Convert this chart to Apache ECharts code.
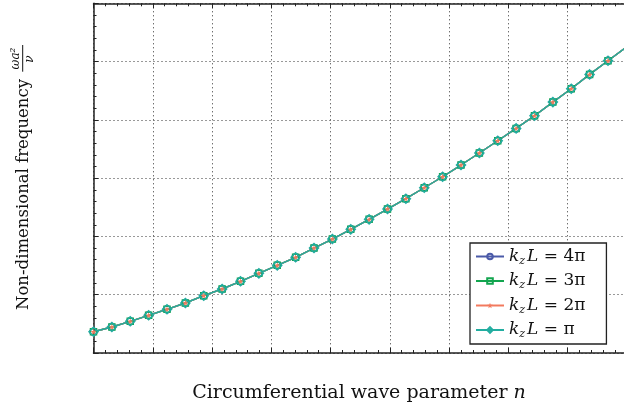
<!DOCTYPE html>
<html>
<head>
<meta charset="utf-8">
<script src="https://cdn.jsdelivr.net/npm/echarts@6/dist/echarts.min.js"></script>
<style>
  html, body { margin: 0; padding: 0; background: #fff; }
  #chart { width: 624px; height: 409px; }
</style>
</head>
<body>
<div id="chart"></div>
<script>
// Circumferential wave parameter n (sampled positions along the x axis)
const waveParam = [0.00, 0.31, 0.62, 0.93, 1.24, 1.55, 1.86, 2.17, 2.48, 2.79,
                   3.10, 3.41, 3.72, 4.03, 4.34, 4.65, 4.96, 5.27, 5.58, 5.89,
                   6.20, 6.51, 6.82, 7.13, 7.44, 7.75, 8.06, 8.37, 8.68, 8.99];

// Non-dimensional frequency for each axial wavenumber k_z L
const freqK4pi = [0.365, 0.446, 0.544, 0.647, 0.750, 0.858, 0.983, 1.098, 1.230, 1.367,
                  1.504, 1.642, 1.801, 1.955, 2.122, 2.293, 2.470, 2.647, 2.835, 3.024,
                  3.225, 3.431, 3.642, 3.854, 4.070, 4.305, 4.533, 4.780, 5.014, 5.249];
const freqK3pi = [0.365, 0.446, 0.544, 0.647, 0.750, 0.858, 0.983, 1.098, 1.230, 1.367,
                  1.504, 1.642, 1.801, 1.955, 2.122, 2.293, 2.470, 2.647, 2.835, 3.024,
                  3.225, 3.431, 3.642, 3.854, 4.070, 4.305, 4.533, 4.780, 5.014, 5.249];
const freqK2pi = [0.365, 0.446, 0.544, 0.647, 0.750, 0.858, 0.983, 1.098, 1.230, 1.367,
                  1.504, 1.642, 1.801, 1.955, 2.122, 2.293, 2.470, 2.647, 2.835, 3.024,
                  3.225, 3.431, 3.642, 3.854, 4.070, 4.305, 4.533, 4.780, 5.014, 5.249];
const freqKpi  = [0.365, 0.446, 0.544, 0.647, 0.750, 0.858, 0.983, 1.098, 1.230, 1.367,
                  1.504, 1.642, 1.801, 1.955, 2.122, 2.293, 2.470, 2.647, 2.835, 3.024,
                  3.225, 3.431, 3.642, 3.854, 4.070, 4.305, 4.533, 4.780, 5.014, 5.249];

const seriesNames = ['4π', '3π', '2π', 'π'];

const STAR = 'path://M5,0 L6.2,3.8 L10,3.8 L6.9,6.2 L8.1,10 L5,7.6 L1.9,10 L3.1,6.2 L0,3.8 L3.8,3.8 Z';

const styles = [
  { color: '#4b5aa8', symbol: 'circle',  size: 7, hollow: true },
  { color: '#13a54f', symbol: 'rect',    size: 6, hollow: true },
  { color: '#f27a5e', symbol: STAR,      size: 6, hollow: false },
  { color: '#22ada0', symbol: 'diamond', size: 9, hollow: true }
];
const values = [freqK4pi, freqK3pi, freqK2pi, freqKpi];

const AXIS = '#222';
const GRIDC = '#333';

function pairs(ys) {
  return waveParam.map((x, i) => [x, ys[i]]);
}

const series = seriesNames.map((nm, k) => {
  const s = styles[k];
  return {
    name: nm,
    type: 'line',
    data: pairs(values[k]),
    symbol: s.symbol,
    symbolSize: s.size,
    showAllSymbol: true,
    lineStyle: { color: s.color, width: 1.4 },
    itemStyle: s.hollow
      ? { color: 'rgba(255,255,255,0)', borderColor: s.color, borderWidth: 1.5 }
      : { color: s.color, borderWidth: 0 },
    emphasis: { disabled: true },
    animation: false
  };
});

function axisCommon(extra) {
  return Object.assign({
    type: 'value',
    axisLine: { show: true, onZero: false, lineStyle: { color: AXIS, width: 1.5 } },
    axisTick: { show: true, inside: true, length: 5, lineStyle: { color: AXIS, width: 1 } },
    minorTick: { show: true, splitNumber: 5, length: 3, lineStyle: { color: AXIS, width: 1 } },
    axisLabel: { show: false },
    splitLine: { show: false },
    minorSplitLine: { show: false }
  }, extra);
}

const chart = echarts.init(document.getElementById('chart'), null, { renderer: 'canvas' });

const serif = '"DejaVu Serif", "Liberation Serif", serif';

// visible part of the n range (the frame continues past the right edge)
const X_MAX = 8.95;

chart.setOption({
  backgroundColor: '#fff',
  animation: false,
  grid: { left: 93.5, top: 3.3, right: 0, bottom: 56, containLabel: false },
  xAxis: [
    axisCommon({
      min: 0, max: X_MAX, interval: 1, position: 'bottom',
      splitLine: { show: true, lineStyle: { color: GRIDC, width: 1, type: [1, 3] } }
    }),
    axisCommon({ min: 0, max: X_MAX, interval: 1, position: 'top' })
  ],
  yAxis: [
    axisCommon({
      min: 0, max: 6, interval: 1, position: 'left',
      splitLine: { show: true, lineStyle: { color: GRIDC, width: 1, type: [1, 3] } }
    }),
    axisCommon({ show: false, min: 0, max: 6, interval: 1, position: 'right' })
  ],
  legend: {
    orient: 'vertical',
    left: 470, top: 243,
    backgroundColor: '#fff',
    borderColor: '#222', borderWidth: 1.3, borderRadius: 0,
    padding: [5, 21, 4, 5],
    itemWidth: 28, itemHeight: 7, itemGap: 6,
    data: seriesNames,
    formatter: nm => '{i|k}{s|z}{i|L}{t| = ' + nm + '}',
    textStyle: {
      fontFamily: serif, color: '#111',
      rich: {
        i: { fontFamily: serif, fontStyle: 'italic', fontSize: 17, lineHeight: 20, verticalAlign: 'middle', color: '#111' },
        s: { fontFamily: serif, fontStyle: 'italic', fontSize: 11, lineHeight: 20, verticalAlign: 'bottom', padding: [0, 2, 0, 0], color: '#111' },
        t: { fontFamily: serif, fontSize: 17, lineHeight: 20, verticalAlign: 'middle', color: '#111' }
      }
    }
  },
  graphic: [
    {
      type: 'text', x: 359, y: 393,
      style: {
        text: '{r|Circumferential wave parameter }{i|n}',
        textAlign: 'center', textVerticalAlign: 'middle',
        rich: {
          r: { fontFamily: serif, fontSize: 19, fill: '#111' },
          i: { fontFamily: serif, fontSize: 19, fontStyle: 'italic', fill: '#111' }
        }
      }
    },
    {
      type: 'text', x: 24, y: 310, rotation: Math.PI / 2,
      style: {
        text: 'Non-dimensional frequency',
        textAlign: 'left', textVerticalAlign: 'middle',
        fontFamily: serif, fontSize: 16.5, fill: '#111'
      }
    },
    {
      type: 'text', x: 16, y: 58.5, rotation: Math.PI / 2,
      style: {
        text: 'ωa²', textAlign: 'center', textVerticalAlign: 'middle',
        fontFamily: serif, fontStyle: 'italic', fontSize: 12, fill: '#111'
      }
    },
    {
      type: 'line',
      shape: { x1: 22.7, y1: 45, x2: 22.7, y2: 71.7 },
      style: { stroke: '#111', lineWidth: 1 }
    },
    {
      type: 'text', x: 29.5, y: 59, rotation: Math.PI / 2,
      style: {
        text: 'ν', textAlign: 'center', textVerticalAlign: 'middle',
        fontFamily: serif, fontStyle: 'italic', fontSize: 12, fill: '#111'
      }
    }
  ],
  series: series
});
</script>
</body>
</html>
